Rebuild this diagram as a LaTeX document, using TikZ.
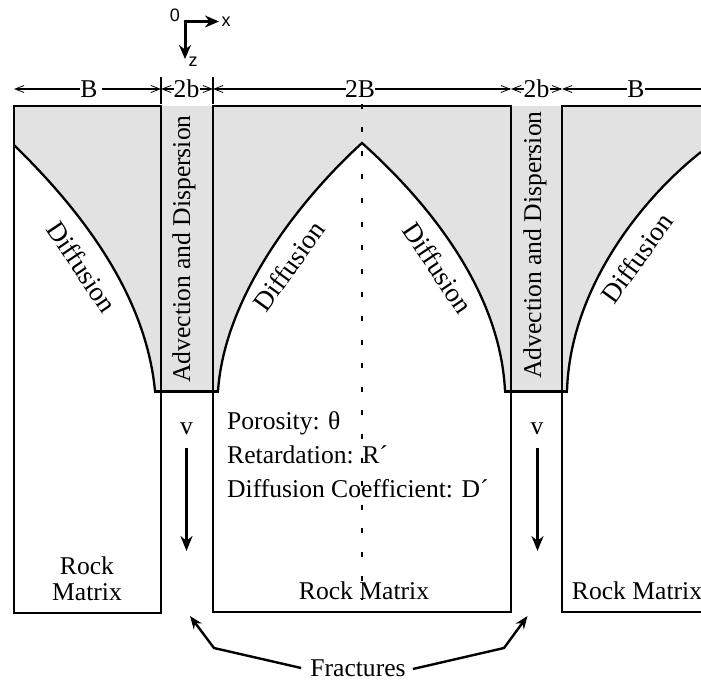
\documentclass[tikz,border=0pt]{standalone}
\usepackage{fontspec}
\setmainfont{Liberation Serif}
\newfontfamily\axisfont{Liberation Sans}
\usetikzlibrary{arrows.meta}
\definecolor{zone}{gray}{0.886}
\tikzset{
  wall/.style={line width=2.5pt,line cap=rect},
  front/.style={line width=2.3pt},
  floorline/.style={line width=3pt},
  dim/.style={line width=1.6pt},
  thin arrow/.style={-{Straight Barb[length=9pt,width=7pt,line width=0.8pt]}},
  axisarrow/.style={line width=3pt,-{Stealth[length=14pt,width=12pt]}},
  flow/.style={line width=3pt,-{Stealth[length=15pt,width=12pt]}},
  callout/.style={line width=2.4pt,-{Stealth[length=13pt,width=10pt]}},
  lbl/.style={font=\fontsize{25.6}{30}\selectfont,inner sep=0pt},
  dif/.style={font=\fontsize{27}{30}\selectfont,inner sep=0pt},
  ax/.style={font=\axisfont\fontsize{18}{20}\selectfont,inner sep=0pt},
}
\begin{document}
\begin{tikzpicture}[x=1pt,y=-1pt]
\useasboundingbox (0,0) rectangle (701,681);
% shaded zones
\fill[zone] (14,106) -- (14,145) .. controls (68,198) and (145,285) .. (155,391) -- (218,391)
  .. controls (225,290) and (308,192) .. (362,143)
  .. controls (420,195) and (500,285) .. (505,391) -- (567,391)
  .. controls (570,290) and (640,200) .. (701,152) -- (701,106) -- cycle;
% axis
\coordinate (o) at (185,21.5);
\coordinate (ox) at (219,21.5);
\coordinate (oz) at (185,59);
\draw[axisarrow] (183.5,21.5) -- (ox);
\draw[axisarrow] (o) -- (oz);
\node[ax] (zero) at (175,15) {0};
\node[ax] (xl) at (226,22) {x};
\node[ax] (zl) at (193,62) {z};
% walls
\draw[wall] (161,106) -- (14,106) -- (14,613) -- (161,613) -- (161,106);
\draw[wall] (511,106) -- (213,106) -- (213,612) -- (511,612) -- (511,106);
\draw[wall] (701,106) -- (562,106) -- (562,612) -- (701,612);
\draw[floorline] (154,391) -- (219,391);
\draw[floorline] (504,391) -- (568,391);
% fronts
\draw[front] (14,145) .. controls (68,198) and (145,285) .. (155,391);
\draw[front] (218,391) .. controls (225,290) and (308,192) .. (362,143)
  .. controls (420,195) and (500,285) .. (505,391);
\draw[front] (567,391) .. controls (570,290) and (640,200) .. (701,152);
% centre line
\coordinate (ca) at (361.5,103.5);
\coordinate (cb) at (361.5,600);
\draw[line width=2pt,dash pattern=on 5pt off 18.6pt] (ca) -- (cb);
% ticks
\draw[line width=1.6pt] (161,77) -- (161,104) (213,77) -- (213,104);
% dimension lines
\node[lbl] (b1) at (89,89) {B};
\node[lbl] (b2) at (186.5,89) {2b};
\node[lbl] (b3) at (360,89) {2B};
\node[lbl] (b4) at (536.5,89) {2b};
\node[lbl] (b5) at (636,89) {B};
\coordinate (d0) at (14,89); \coordinate (d1) at (161,89); \coordinate (d2) at (213,89);
\coordinate (d3) at (511,89); \coordinate (d4) at (562,89); \coordinate (d5) at (701,89);
\draw[dim,thin arrow] (b1) ++(-9,0) -- (d0);
\draw[dim,thin arrow] (b1) ++(13,0) -- (d1);
\draw[dim,thin arrow] (b2) ++(-13,0) -- (d1);
\draw[dim,thin arrow] (b2) ++(13,0) -- (d2);
\draw[dim,thin arrow] (b3) ++(-14,0) -- (d2);
\draw[dim,thin arrow] (b3) ++(15,0) -- (d3);
\draw[dim,thin arrow] (b4) ++(-13,0) -- (d3);
\draw[dim,thin arrow] (b4) ++(13,0) -- (d4);
\draw[dim,thin arrow] (b5) ++(-9,0) -- (d4);
\draw[dim] (b5) ++(9,0) -- (d5);
% labels
\node[dif,rotate=-56] (dl1) at (82,267) {Diffusion};
\node[dif,rotate=54] (dl2) at (289,266) {Diffusion};
\node[dif,rotate=-56] (dl3) at (438,268) {Diffusion};
\node[dif,rotate=54] (dl4) at (637,258) {Diffusion};
\node[lbl,rotate=90] (ad1) at (184,249) {Advection and Dispersion};
\node[lbl,rotate=90] (ad2) at (535,245) {Advection and Dispersion};
\node[lbl,anchor=west] (p1) at (227,423) {Porosity: θ};
\node[lbl,anchor=west] (p2) at (227,455) {Retardation: R´};
\node[lbl,anchor=west] (p3) at (227,489) {Diffusion Coefficient: D´};
\node[lbl] (v1) at (186.5,429) {v};
\node[lbl] (v2) at (537,429) {v};
\coordinate (f1a) at (186.5,448); \coordinate (f1b) at (186.5,551);
\coordinate (f2a) at (537.5,448); \coordinate (f2b) at (537.5,551);
\draw[flow] (f1a) -- (f1b);
\draw[flow] (f2a) -- (f2b);
\node[lbl] (r1a) at (87,566) {Rock};
\node[lbl] (r1b) at (87,592) {Matrix};
\node[lbl] (r2) at (364,591) {Rock Matrix};
\node[lbl] (r3) at (637,591) {Rock Matrix};
\node[lbl] (fr) at (358,668) {Fractures};
\coordinate (k1) at (214,648);
\coordinate (k2) at (504,648);
\coordinate (t1) at (190,616);
\coordinate (t2) at (527.5,616);
\draw[callout] (fr.west) ++(-9,0) -- (k1) -- (t1);
\draw[callout] (fr.east) ++(7,1) -- (k2) -- (t2);
\end{tikzpicture}
\end{document}
